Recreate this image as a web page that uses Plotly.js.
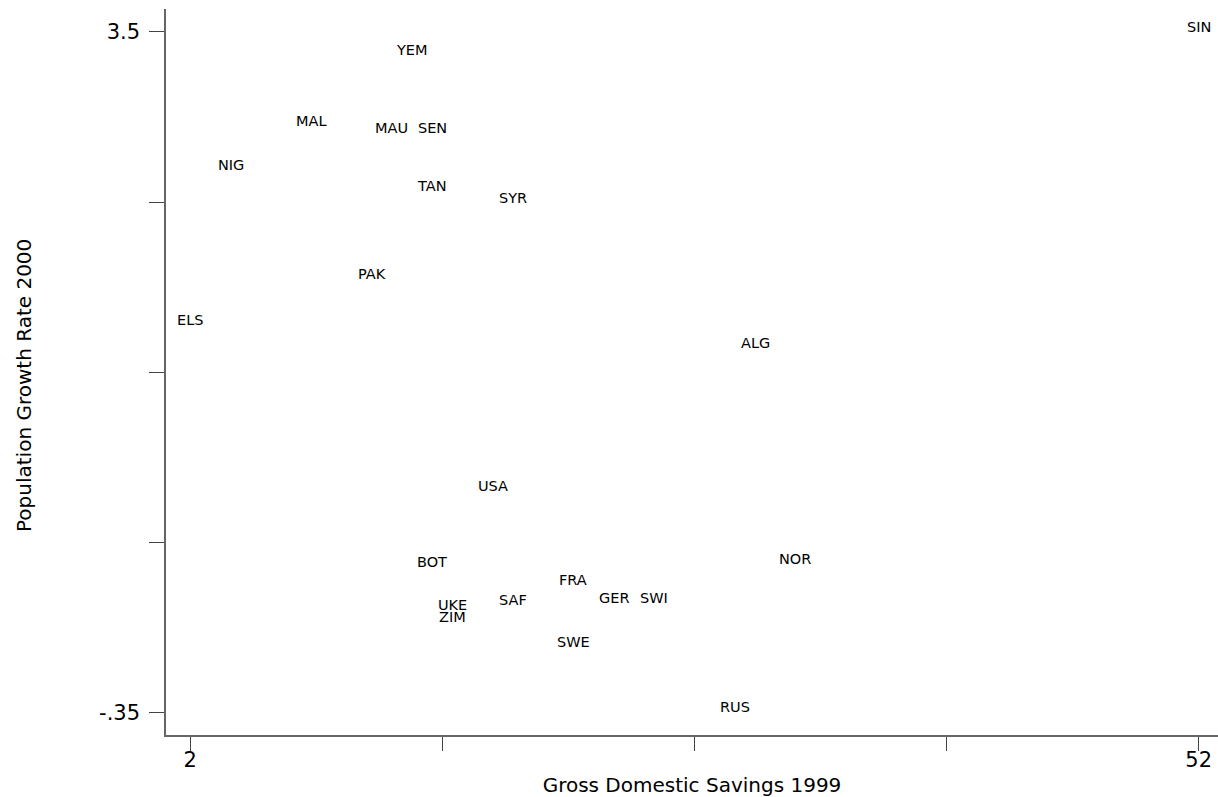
<!DOCTYPE html>
<html>
<head>
<meta charset="utf-8">
<script src="https://cdn.plot.ly/plotly-3.0.1.min.js"></script>
<style>
  html, body { margin: 0; padding: 0; background: #fff; }
  #chart { width: 1218px; height: 797px; }
</style>
</head>
<body>
<div id="chart"></div>
<script>
// Country codes (marker labels)
const countries = ["SIN","YEM","MAL","MAU","SEN","NIG","TAN","SYR","PAK","ELS","ALG",
                   "USA","BOT","FRA","UKE","ZIM","SAF","GER","SWI","SWE","NOR","RUS"];
// Gross Domestic Savings 1999
const savings = [52, 13, 8, 12, 14, 4, 14, 18, 11, 2, 30,
                 17, 14, 21, 15, 15, 18, 23, 25, 21, 32, 29];
// Population Growth Rate 2000
const popGrowth = [3.5, 3.37, 2.97, 2.93, 2.93, 2.72, 2.6, 2.53, 2.1, 1.84, 1.71,
                   0.9, 0.47, 0.37, 0.23, 0.16, 0.26, 0.27, 0.27, 0.02, 0.49, -0.35];

// Axis ticks
const xTickVals = [2, 14.5, 27, 39.5, 52];
const xTickText = ["2", "", "", "", "52"];
const yTickVals = [-0.35, 0.6125, 1.575, 2.5375, 3.5];
const yTickText = ["-.35", "", "", "", "3.5"];

const xTitle = "Gross Domestic Savings 1999";
const yTitle = "Population Growth Rate 2000";

// invisible point markers (labels are drawn as annotations centred on them)
const trace = {
  type: "scatter",
  mode: "markers",
  x: savings,
  y: popGrowth,
  text: countries,
  marker: { size: 6, opacity: 0 },
  hoverinfo: "x+y+text",
  showlegend: false
};

const labelFont = { family: "DejaVu Sans", size: 14.5, color: "#000" };
const annotations = countries.map((c, i) => ({
  x: savings[i], y: popGrowth[i], xref: "x", yref: "y",
  text: c, showarrow: false, xanchor: "center", yanchor: "middle",
  yshift: 5, font: labelFont
}));

annotations.push({
  xref: "paper", yref: "paper", x: 0, y: 0.5,
  xshift: -142, yshift: -14,
  text: yTitle, textangle: -90, showarrow: false,
  xanchor: "center", yanchor: "middle",
  font: { family: "DejaVu Sans", size: 20, color: "#000" }
});

const layout = {
  width: 1218,
  height: 797,
  margin: { l: 166, r: 0, t: 9, b: 62 },
  paper_bgcolor: "#fff",
  plot_bgcolor: "#fff",
  showlegend: false,
  annotations: annotations,
  xaxis: {
    range: [0.795, 52.957],
    tickmode: "array",
    tickvals: xTickVals,
    ticktext: xTickText,
    ticks: "outside",
    ticklen: 14,
    tickwidth: 1,
    tickcolor: "#444",
    ticklabelstandoff: -9,
    tickfont: { family: "DejaVu Sans", size: 21, color: "#000" },
    showline: true,
    linecolor: "#666",
    linewidth: 1.5,
    showgrid: false,
    zeroline: false,
    automargin: false,
    title: { text: xTitle, font: { family: "DejaVu Sans", size: 20, color: "#000" }, standoff: 12 }
  },
  yaxis: {
    range: [-0.478, 3.630],
    tickmode: "array",
    tickvals: yTickVals,
    ticktext: yTickText,
    ticks: "outside",
    ticklen: 15,
    tickwidth: 1,
    tickcolor: "#444",
    ticklabelstandoff: 5,
    tickfont: { family: "DejaVu Sans", size: 21, color: "#000" },
    showline: true,
    linecolor: "#666",
    linewidth: 1.5,
    showgrid: false,
    zeroline: false,
    automargin: false
  }
};

Plotly.newPlot("chart", [trace], layout, { displayModeBar: false });
</script>
</body>
</html>
